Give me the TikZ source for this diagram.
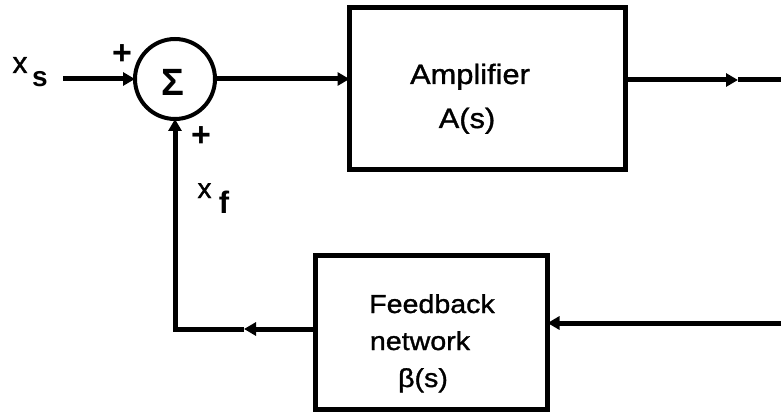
\documentclass[tikz,border=0pt]{standalone}
\usepackage{fontspec}
\setmainfont{Liberation Sans}
\newfontfamily\wide{Liberation Sans}[FakeStretch=1.1,FakeBold=1.2]
\newfontfamily\thick{Liberation Sans}[FakeBold=1.2]
\usetikzlibrary{arrows.meta}
\begin{document}
\begin{tikzpicture}[x=1pt,y=-1pt,
  wire/.style={line width=5pt},
  arr/.style={wire,-{Triangle[length=12pt,width=13pt]}},
  blk/.style={draw,line width=5pt,inner sep=0pt,outer sep=0pt},
  lbl/.style={inner sep=0pt,anchor=base},
  ampfont/.style={lbl,font=\wide\fontsize{28}{32}\selectfont},
  fbfont/.style={lbl,font=\wide\fontsize{26}{30}\selectfont},
  plus/.style={inner sep=0pt,font=\bfseries\fontsize{34}{38}\selectfont}]
\useasboundingbox (0,0) rectangle (781,414);
% blocks
\node[blk,circle,minimum size=80pt,line width=4pt] (sum) at (175,79) {};
\node[lbl,font=\bfseries\fontsize{38}{40}\selectfont] (sigma) at (173,96) {Σ};
\node[blk,minimum width=276pt,minimum height=162pt] (amp) at (487.5,88.5) {};
\node[blk,minimum width=232pt,minimum height=154pt] (fb) at (431.5,332.5) {};
% block texts
\node[ampfont] (amp1) at (470,84) {Amplifier};
\node[ampfont] (amp2) at (467,128) {A(s)};
\node[fbfont] (fb1) at (432,313) {Feedback};
\node[fbfont] (fb2) at (420,350) {network};
\node[fbfont] (fb3) at (423,387) {β(s)};
% signal labels
\node[lbl,font=\thick\fontsize{30}{34}\selectfont] (xs1) at (20,73) {x};
\node[lbl,font=\bfseries\fontsize{28}{32}\selectfont] (xs2) at (40,87) {s};
\node[lbl,font=\thick\fontsize{28}{32}\selectfont] (xf1) at (204.5,198) {x};
\node[lbl,font=\bfseries\fontsize{31}{34}\selectfont] (xf2) at (224,213) {f};
\node[plus] (p1) at (122,55) {+};
\node[plus] (p2) at (201,137) {+};
% coordinates
\coordinate (xin) at (63,79);
\coordinate (outmid) at (738,80);
\coordinate (out) at (781,80);
\coordinate (fin) at (781,323);
\coordinate (fbo) at (0,329);
\coordinate (fbmid) at (244,329);
\coordinate (corner) at (175,329);
% connectors
\draw[arr] (xin) -- (sum.west);
\draw[arr] (sum.east) -- (sum.east -| amp.west);
\draw[arr] (amp.east |- out) -- (outmid);
\draw[wire] (outmid) -- (out);
\draw[arr] (fin) -- (fin -| fb.east);
\draw[arr] (fb.west |- fbo) -- (fbmid);
\draw[arr] (fbmid) -- (corner) -- (sum.south);
\end{tikzpicture}
\end{document}
